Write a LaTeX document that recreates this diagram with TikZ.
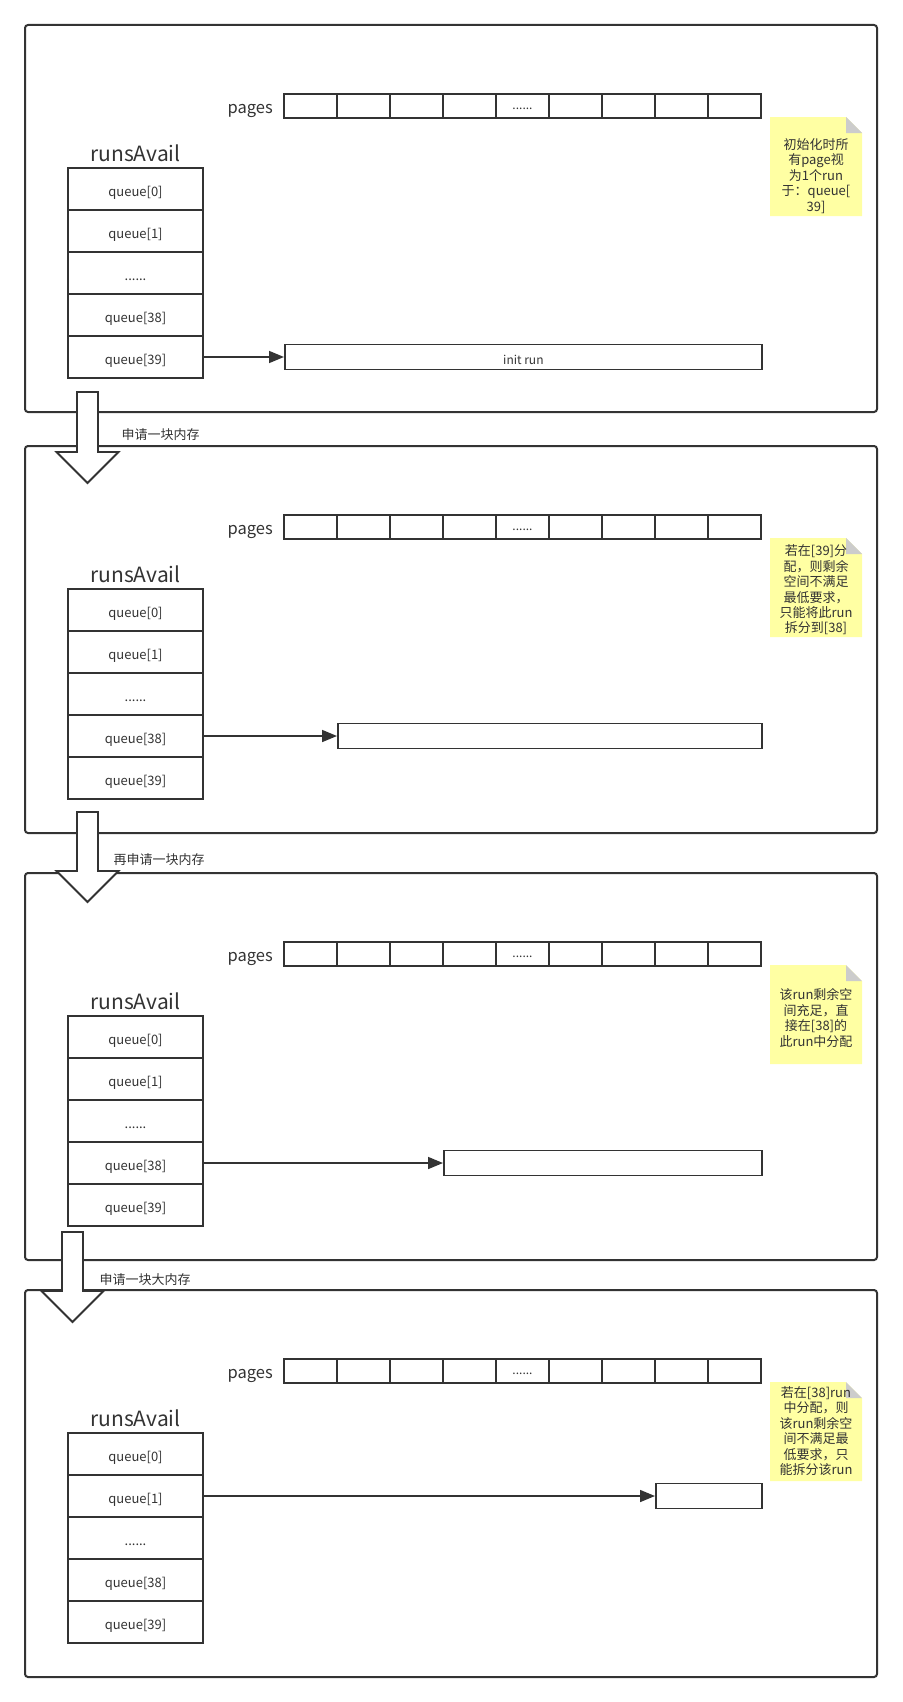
\documentclass[tikz,border=0pt]{standalone}
\usepackage{fontspec}
\setmainfont{Noto Sans CJK SC}
\usetikzlibrary{arrows.meta}

\begin{document}
\begin{tikzpicture}[x=1pt,y=-1pt,
  every node/.style={text=dgray},
  panel/.style={draw=dgray,line width=2pt,rounded corners=3pt},
  pagecell/.style={draw=dgray,line width=1.5pt,minimum width=53pt,minimum height=24pt,inner sep=0pt,text height=8pt,text depth=1.5pt,font=\fontsize{12}{14}\selectfont},
  qcell/.style={draw=dgray,line width=1.5pt,minimum width=135pt,minimum height=42pt,inner sep=0pt,text height=16pt,text depth=1pt,font=\fontsize{13}{15}\selectfont},
  runbox/.style={draw=dgray,line width=1.8pt,minimum height=25pt,inner sep=0pt,text height=15pt,text depth=1pt,font=\fontsize{12}{14}\selectfont},
  notetext/.style={font=\fontsize{13}{15.4}\selectfont,align=center},
  bigarrow/.style={draw=dgray,fill=white,line width=1.8pt},
  link/.style={draw=dgray,line width=1.6pt,-{Triangle[length=15pt,width=12pt]}}]
\definecolor{dgray}{HTML}{333333}
\definecolor{notey}{HTML}{FFFFA3}
\definecolor{fold}{HTML}{CCCCCC}
\useasboundingbox (0,0) rectangle (902,1702);
\foreach \p/\T/\row/\rx/\rw/\rtxt/\ny/\nt in {
  1/25/4/284/477/{init run}/151/{初始化时所\\有page视\\为1个run\\于：queue[\\39]},
  2/446/3/337/424/{}/144/{若在[39]分\\配，则剩余\\空间不满足\\最低要求，\\只能将此run\\拆分到[38]},
  3/873/3/443/318/{}/145/{该run剩余空\\间充足，直\\接在[38]的\\此run中分配},
  4/1290/1/655/106/{}/141/{若在[38]run\\中分配，则\\该run剩余空\\间不满足最\\低要求，只\\能拆分该run}}
{
  \draw[panel] (25,\T) rectangle (877,\T+387);
  \foreach \i in {0,1,2,3,4,5,6,7,8}
    \node[pagecell] (pg\p-\i) at ({310.5+53*\i},\T+81) {};
  \node[pagecell] at (pg\p-4) {......};
  \node[anchor=base east,font=\fontsize{16.5}{19}\selectfont] (pl\p) at ([xshift=-7pt,yshift=-7pt]pg\p-0.west) {pages};
  \node[anchor=base,font=\fontsize{21}{24}\selectfont] (ra\p) at (135.5,\T+136) {runsAvail};
  \foreach \i/\q in {0/{queue[0]},1/{queue[1]},2/{......},3/{queue[38]},4/{queue[39]}}
    \node[qcell] (q\p-\i) at (135.5,{\T+164+42*\i}) {\q};
  \node[runbox,anchor=west,minimum width=\rw pt] (run\p) at (\rx,{\T+164+42*\row}) {\rtxt};
  \draw[link] (q\p-\row.east) -- (run\p.west);
  \fill[notey] (770,\T+92) -- (846,\T+92) -- (862,\T+108) -- (862,\T+191) -- (770,\T+191) -- cycle;
  \fill[fold] (846,\T+92) -- (846,\T+108) -- (862,\T+108) -- cycle;
  \node[notetext] (note\p) at (816,\T+\ny) {\nt};
}
\foreach \n/\cx/\a/\b/\c/\lx/\ly/\lbl in {
  1/87.5/392/452/483/118/435/申请一块内存,
  2/87.5/812/871/902/110/860/再申请一块内存,
  3/72.5/1232/1291/1322/96/1280/申请一块大内存}
{
  \draw[bigarrow] ({\cx-10.5},\a) -- ({\cx+10.5},\a) -- ({\cx+10.5},\b) -- ({\cx+31},\b)
    -- (\cx,\c) -- ({\cx-31},\b) -- ({\cx-10.5},\b) -- cycle;
  \node[anchor=west,font=\fontsize{13}{15}\selectfont] (step\n) at (\lx,\ly) {\lbl};
}
\end{tikzpicture}
\end{document}
